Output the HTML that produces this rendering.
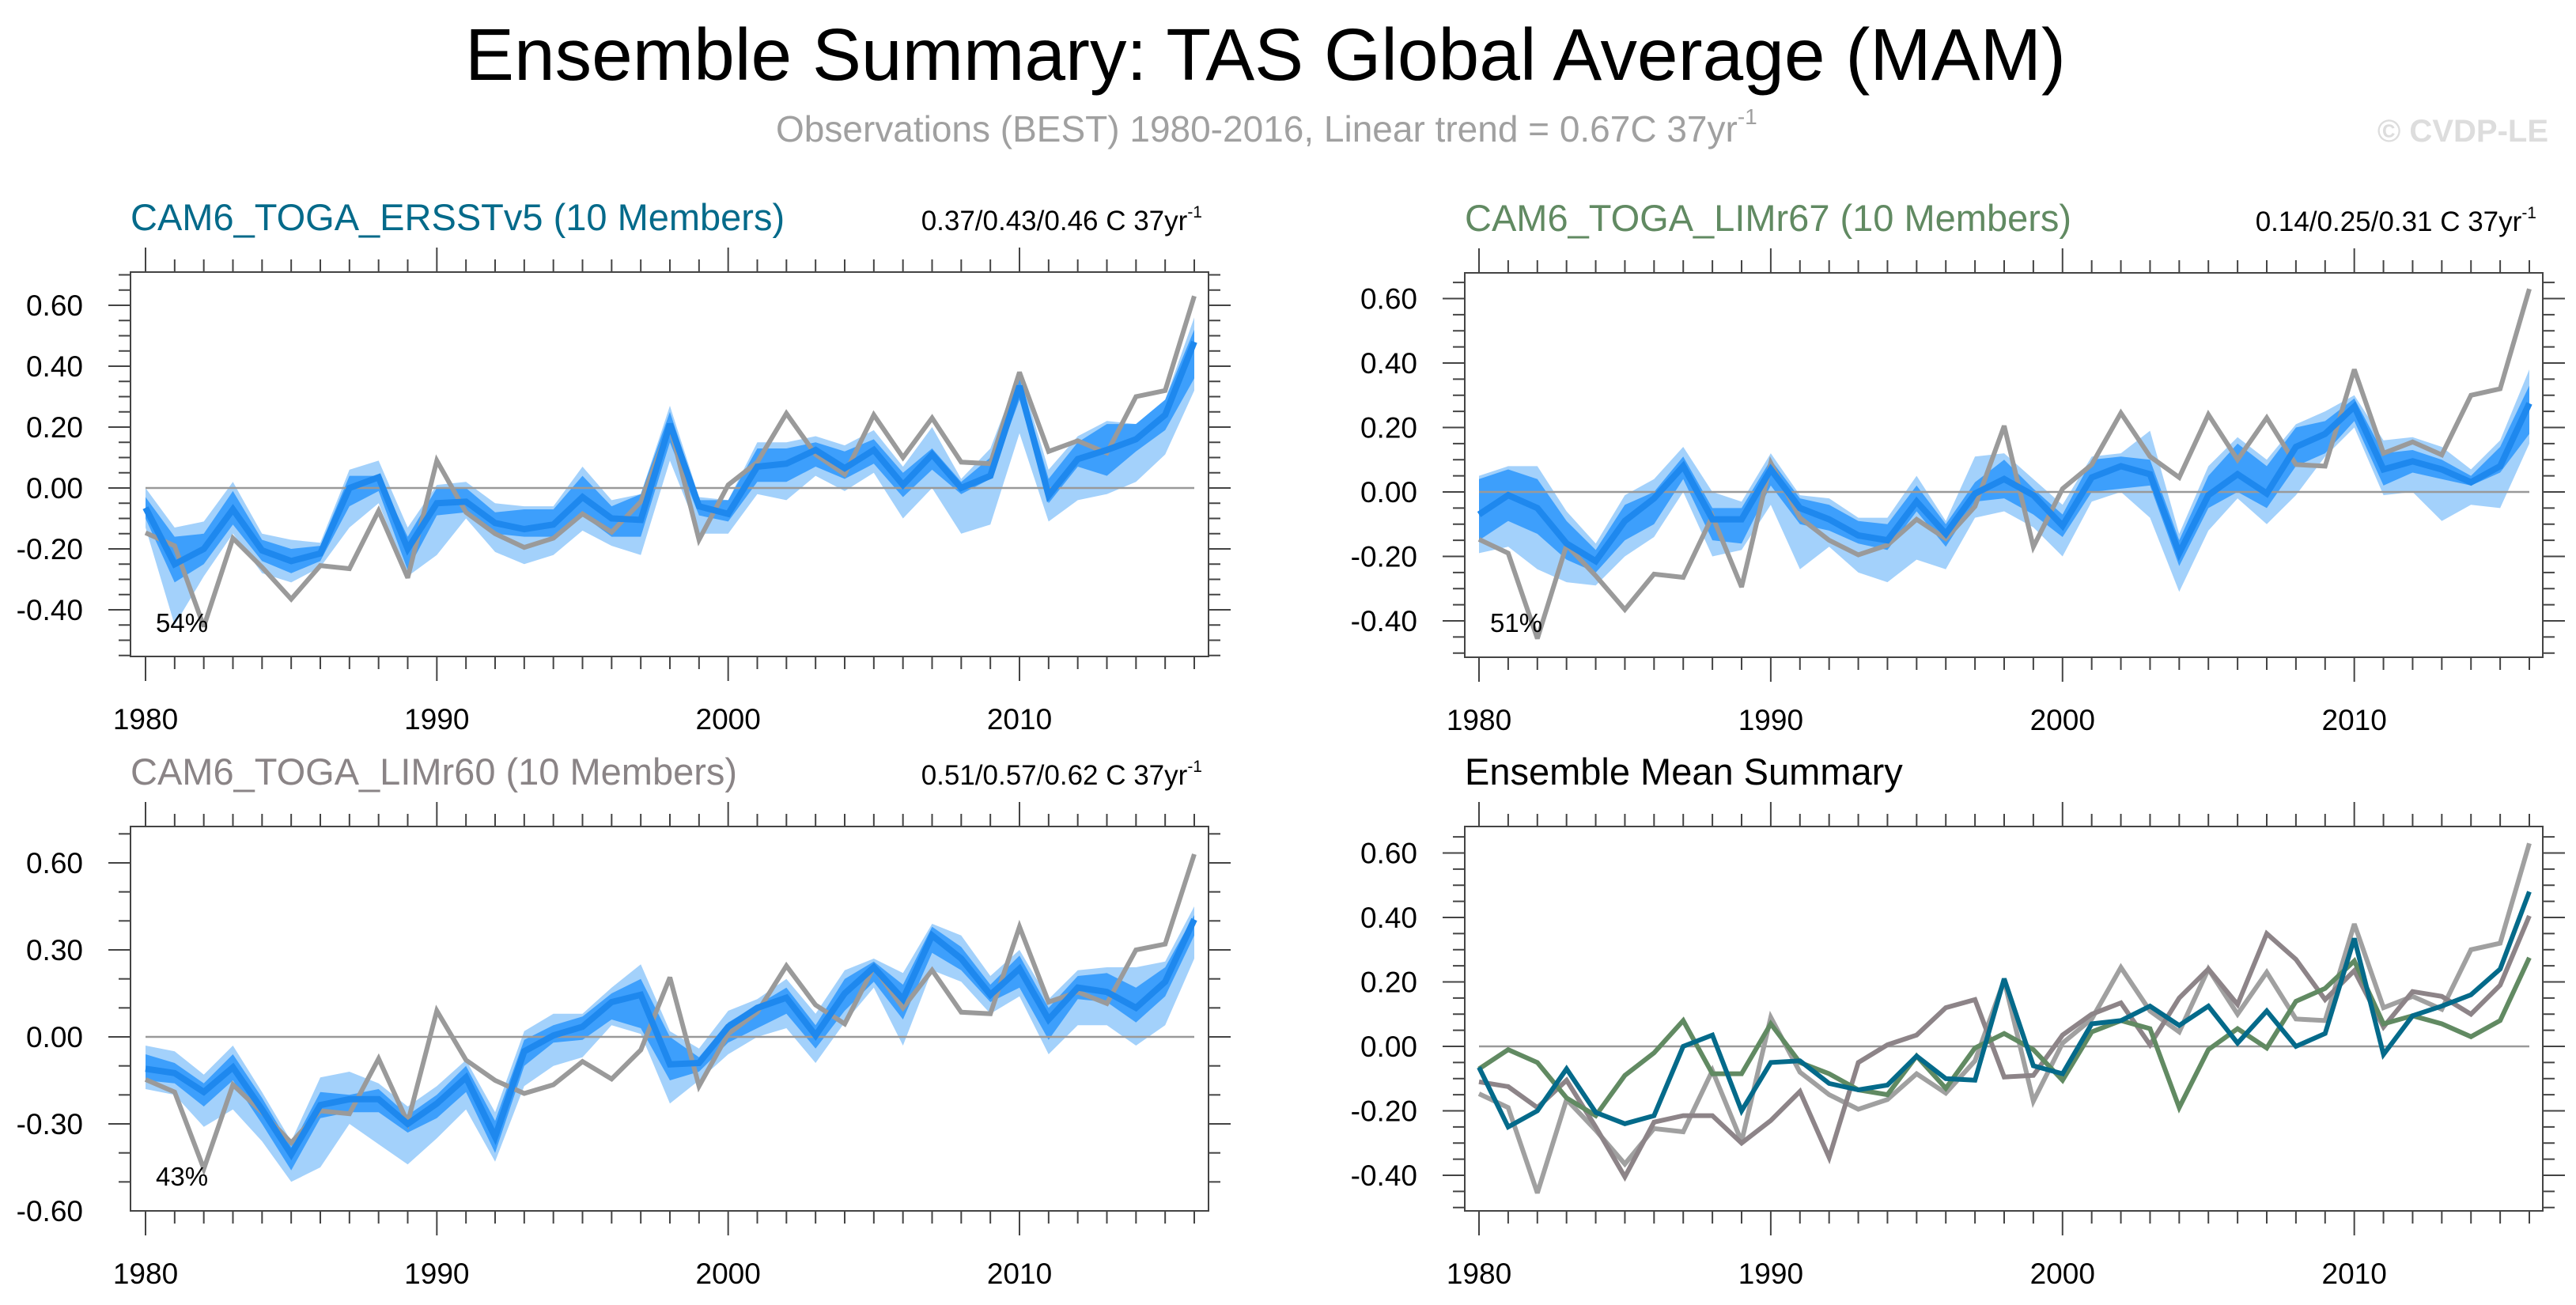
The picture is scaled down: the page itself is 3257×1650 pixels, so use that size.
<!DOCTYPE html>
<html><head><meta charset="utf-8"><style>
html,body{margin:0;padding:0;background:#fff;}
svg{display:block;font-family:"Liberation Sans",sans-serif;}
</style></head><body>
<svg id="chart" xmlns="http://www.w3.org/2000/svg" width="3257" height="1650" viewBox="0 0 3257 1650">
<text x="1600" y="101" font-size="93" text-anchor="middle" textLength="2024" lengthAdjust="spacingAndGlyphs">Ensemble Summary: TAS Global Average (MAM)</text>
<text x="981" y="179" font-size="46" fill="#a0a0a0">Observations (BEST) 1980-2016, Linear trend = 0.67C 37yr<tspan font-size="28" dy="-22">-1</tspan></text>
<text x="3222" y="179" font-size="40" font-weight="bold" fill="#dddddd" text-anchor="end">© CVDP-LE</text>
</svg>
<script>
const years = [];
for (let y = 1980; y <= 2016; y++) years.push(y);
const xTickLabels = ["1980","1990","2000","2010"];
const obs = [-0.147,-0.19,-0.455,-0.165,-0.26,-0.365,-0.255,-0.265,-0.075,-0.295,0.09,-0.08,-0.15,-0.195,-0.165,-0.085,-0.145,-0.045,0.205,-0.17,0.01,0.085,0.245,0.11,0.045,0.24,0.10,0.23,0.085,0.08,0.38,0.12,0.155,0.115,0.30,0.32,0.63];
const ersstMean = [-0.065,-0.25,-0.20,-0.07,-0.205,-0.24,-0.215,0.0,0.035,-0.2,-0.05,-0.045,-0.115,-0.135,-0.12,-0.03,-0.10,-0.105,0.21,-0.06,-0.085,0.07,0.08,0.125,0.065,0.125,0.01,0.11,0.0,0.04,0.335,-0.025,0.095,0.125,0.16,0.24,0.48];
const ersstLightHi = [0.00,-0.13,-0.11,0.02,-0.15,-0.17,-0.18,0.06,0.09,-0.13,0.01,0.02,-0.05,-0.06,-0.06,0.07,-0.04,-0.02,0.27,-0.03,-0.04,0.15,0.15,0.17,0.14,0.19,0.07,0.20,0.03,0.13,0.38,0.06,0.17,0.22,0.21,0.29,0.56];
const ersstDarkHi = [-0.03,-0.16,-0.15,-0.01,-0.17,-0.20,-0.19,0.04,0.04,-0.16,0.0,0.0,-0.08,-0.07,-0.07,0.04,-0.06,-0.02,0.25,-0.04,-0.04,0.13,0.13,0.15,0.12,0.16,0.05,0.13,0.02,0.10,0.36,0.03,0.15,0.21,0.21,0.29,0.52];
const ersstDarkLo = [-0.10,-0.31,-0.25,-0.12,-0.24,-0.28,-0.24,-0.06,-0.01,-0.27,-0.09,-0.08,-0.15,-0.16,-0.16,-0.09,-0.16,-0.16,0.15,-0.09,-0.11,0.02,0.02,0.07,0.03,0.08,-0.03,0.06,-0.02,0.03,0.29,-0.05,0.07,0.04,0.12,0.19,0.36];
const ersstLightLo = [-0.13,-0.45,-0.29,-0.15,-0.28,-0.31,-0.26,-0.13,-0.05,-0.29,-0.22,-0.10,-0.21,-0.25,-0.22,-0.14,-0.19,-0.22,0.09,-0.15,-0.15,-0.02,-0.04,0.04,-0.01,0.05,-0.10,0.0,-0.15,-0.12,0.18,-0.11,-0.04,-0.02,0.02,0.11,0.32];
const lim67Mean = [-0.07,-0.01,-0.05,-0.16,-0.215,-0.09,-0.02,0.08,-0.085,-0.085,0.07,-0.05,-0.085,-0.135,-0.15,-0.03,-0.13,-0.005,0.04,-0.01,-0.105,0.045,0.08,0.055,-0.19,-0.01,0.055,-0.005,0.14,0.18,0.265,0.07,0.095,0.07,0.03,0.08,0.275];
const lim67LightHi = [0.05,0.08,0.08,-0.06,-0.16,-0.01,0.04,0.14,0.0,-0.03,0.12,-0.01,-0.02,-0.08,-0.08,0.05,-0.09,0.11,0.12,0.04,-0.04,0.11,0.12,0.19,-0.13,0.08,0.17,0.10,0.21,0.25,0.30,0.16,0.17,0.14,0.07,0.16,0.38];
const lim67DarkHi = [0.04,0.07,0.04,-0.09,-0.18,-0.04,0.0,0.11,-0.05,-0.05,0.10,-0.02,-0.04,-0.09,-0.10,0.02,-0.10,0.03,0.10,0.01,-0.07,0.10,0.11,0.10,-0.15,0.05,0.15,0.08,0.20,0.22,0.29,0.12,0.13,0.10,0.05,0.14,0.33];
const lim67DarkLo = [-0.15,-0.09,-0.13,-0.21,-0.25,-0.15,-0.10,0.04,-0.15,-0.16,0.02,-0.10,-0.12,-0.16,-0.18,-0.06,-0.17,-0.03,-0.02,-0.07,-0.14,0.00,0.01,0.02,-0.23,-0.05,0.00,-0.05,0.08,0.12,0.22,0.02,0.06,0.04,0.02,0.06,0.18];
const lim67LightLo = [-0.19,-0.17,-0.24,-0.28,-0.29,-0.20,-0.14,0.00,-0.20,-0.18,-0.04,-0.24,-0.17,-0.25,-0.28,-0.21,-0.24,-0.08,-0.06,-0.11,-0.20,-0.03,0.00,-0.08,-0.31,-0.12,-0.02,-0.10,-0.01,0.11,0.20,-0.01,0.00,-0.09,-0.04,-0.05,0.15];
const lim60Mean = [-0.11,-0.125,-0.19,-0.105,-0.25,-0.405,-0.235,-0.215,-0.215,-0.30,-0.23,-0.14,-0.345,-0.05,0.005,0.035,0.12,0.145,-0.095,-0.09,0.035,0.10,0.135,0.005,0.15,0.24,0.13,0.35,0.27,0.145,0.235,0.06,0.17,0.155,0.10,0.19,0.405];
const lim60LightHi = [-0.03,-0.05,-0.13,-0.03,-0.19,-0.36,-0.14,-0.12,-0.16,-0.24,-0.17,-0.08,-0.26,0.02,0.08,0.08,0.17,0.25,0.02,-0.04,0.09,0.13,0.20,0.08,0.23,0.27,0.22,0.39,0.35,0.21,0.30,0.13,0.23,0.24,0.24,0.26,0.45];
const lim60DarkHi = [-0.06,-0.09,-0.16,-0.06,-0.21,-0.38,-0.19,-0.20,-0.18,-0.27,-0.20,-0.10,-0.29,-0.01,0.04,0.07,0.15,0.20,0.00,-0.07,0.05,0.11,0.17,0.04,0.20,0.26,0.18,0.38,0.31,0.18,0.28,0.10,0.21,0.22,0.17,0.24,0.42];
const lim60DarkLo = [-0.15,-0.16,-0.24,-0.15,-0.30,-0.46,-0.28,-0.26,-0.26,-0.33,-0.28,-0.19,-0.40,-0.10,-0.02,-0.01,0.06,0.03,-0.15,-0.12,-0.02,0.03,0.08,-0.04,0.09,0.19,0.06,0.29,0.23,0.12,0.17,-0.01,0.13,0.12,0.05,0.14,0.35];
const lim60LightLo = [-0.18,-0.20,-0.31,-0.25,-0.36,-0.50,-0.45,-0.30,-0.37,-0.44,-0.35,-0.25,-0.43,-0.17,-0.10,-0.07,0.04,0.01,-0.23,-0.15,-0.06,0.00,0.03,-0.09,0.05,0.17,-0.03,0.23,0.19,0.08,0.14,-0.06,0.04,0.04,-0.03,0.04,0.27];
const ticksA = ["-0.40","-0.20","0.00","0.20","0.40","0.60"];
const ticksB = ["-0.60","-0.30","0.00","0.30","0.60"];

const NS = "http://www.w3.org/2000/svg";
const svg = document.getElementById("chart");
function mk(tag, attrs, parent) {
  const e = document.createElementNS(NS, tag);
  for (const k in attrs) e.setAttribute(k, attrs[k]);
  (parent || svg).appendChild(e);
  return e;
}

function panel(cfg) {
  const g = mk("g", {});
  
  
  const xs = i => cfg.x0 + (years[i] - 1980) * (cfg.x1 - cfg.x0) / 36;
  const xy = yr => cfg.x0 + (yr - 1980) * (cfg.x1 - cfg.x0) / 36;
  const ys = v => cfg.zeroY - v * cfg.pxPerUnit;
  function band(hi, lo, color, nm) {
    let d = "";
    hi.forEach((v, i) => { d += (i ? "L" : "M") + xs(i).toFixed(1) + "," + ys(v).toFixed(1); });
    for (let i = lo.length - 1; i >= 0; i--) d += "L" + xs(i).toFixed(1) + "," + ys(lo[i]).toFixed(1);
    const p = mk("path", { d: d + "Z", fill: color, stroke: "none" }, g);
    
    
  }
  function line(vals, color, w, nm) {
    const pts = vals.map((v, i) => xs(i).toFixed(1) + "," + ys(v).toFixed(1)).join(" ");
    const p = mk("polyline", { points: pts, fill: "none", stroke: color, "stroke-width": w, "stroke-linejoin": "miter", "stroke-miterlimit": 3 }, g);
    
    
  }
  if (cfg.bands) {
    band(cfg.bands[0], cfg.bands[3], "#a3d1fb", "min-max-band");
    band(cfg.bands[1], cfg.bands[2], "#3d9ffc", "interquartile-band");
  }
  const zl = mk("line", { x1: xs(0), x2: xs(36), y1: ys(0), y2: ys(0), stroke: "#999", "stroke-width": 2.5 }, g);
  
  
  if (cfg.bands) {
    line(obs, "#9a9a9a", 6, "observations-line");
    line(cfg.mean, "#1e88ee", 8, "ensemble-mean-line");
  } else {
    cfg.lines.forEach(l => line(l[0], l[1], 6, l[2]));
  }
  const fr = mk("rect", { x: cfg.bx0, y: cfg.by0, width: cfg.bx1 - cfg.bx0, height: cfg.by1 - cfg.by0, fill: "none", stroke: "#444", "stroke-width": 2 }, g);
  
  
  years.forEach(yr => {
    const x = xy(yr), major = yr % 10 === 0, L = major ? 31 : 16;
    mk("line", { x1: x, x2: x, y1: cfg.by0, y2: cfg.by0 - L, stroke: "#444", "stroke-width": 2 }, g);
    mk("line", { x1: x, x2: x, y1: cfg.by1, y2: cfg.by1 + L, stroke: "#444", "stroke-width": 2 }, g);
  });
  xTickLabels.forEach(lbl => {
    const t = mk("text", { x: xy(+lbl), y: cfg.by1 + 92, "font-size": 37, "text-anchor": "middle" }, g);
    t.textContent = lbl;
    
    
  });
  const vTop = (cfg.zeroY - cfg.by0) / cfg.pxPerUnit, vBot = (cfg.zeroY - cfg.by1) / cfg.pxPerUnit;
  const start = Math.ceil(vBot / cfg.minor - 1e-6);
  for (let k = start; k * cfg.minor <= vTop + 1e-6; k++) {
    const v = k * cfg.minor, y = ys(v);
    const major = Math.abs(v / cfg.major - Math.round(v / cfg.major)) < 1e-6;
    const L = major ? 28 : 15;
    mk("line", { x1: cfg.bx0, x2: cfg.bx0 - L, y1: y, y2: y, stroke: "#444", "stroke-width": 2 }, g);
    mk("line", { x1: cfg.bx1, x2: cfg.bx1 + L, y1: y, y2: y, stroke: "#444", "stroke-width": 2 }, g);
  }
  cfg.yTicks.forEach(lbl => {
    const t = mk("text", { x: cfg.bx0 - 60, y: ys(+lbl) + 13, "font-size": 37, "text-anchor": "end" }, g);
    t.textContent = lbl;
    
    
  });
  const tt = mk("text", { x: cfg.bx0 + (cfg.titleDx || 0), y: cfg.by0 - 53, "font-size": 47, fill: cfg.titleColor }, g);
  tt.textContent = cfg.title;
  
  
  if (cfg.trend) {
    const tr = mk("text", { x: cfg.bx1 - 8, y: cfg.by0 - 53, "font-size": 35, "text-anchor": "end" }, g);
    tr.innerHTML = cfg.trend + '<tspan font-size="21" dy="-16">-1</tspan>';
    
    
  }
  if (cfg.pct) {
    const pt = mk("text", { x: cfg.bx0 + 32, y: cfg.pctY, "font-size": 33 }, g);
    pt.textContent = cfg.pct;
    
    
  }
}

panel({ name: "panel-ersstv5", x0: 184, x1: 1510, bx0: 165, bx1: 1528, by0: 344, by1: 830, zeroY: 617, pxPerUnit: 385, minor: 0.05, major: 0.2, yTicks: ticksA,
  bands: [ersstLightHi, ersstDarkHi, ersstDarkLo, ersstLightLo], mean: ersstMean,
  title: "CAM6_TOGA_ERSSTv5 (10 Members)", titleColor: "#046a8a", trend: "0.37/0.43/0.46 C 37yr", pct: "54%", pctY: 799 });
panel({ name: "panel-limr67", x0: 1870, x1: 3198, bx0: 1852, bx1: 3215, by0: 345, by1: 831, zeroY: 622, pxPerUnit: 407.5, minor: 0.05, major: 0.2, yTicks: ticksA,
  bands: [lim67LightHi, lim67DarkHi, lim67DarkLo, lim67LightLo], mean: lim67Mean,
  title: "CAM6_TOGA_LIMr67 (10 Members)", titleColor: "#618a62", trend: "0.14/0.25/0.31 C 37yr", pct: "51%", pctY: 799 });
panel({ name: "panel-limr60", x0: 184, x1: 1510, bx0: 165, bx1: 1528, by0: 1045, by1: 1531, zeroY: 1311, pxPerUnit: 366.7, minor: 0.1, major: 0.3, yTicks: ticksB,
  bands: [lim60LightHi, lim60DarkHi, lim60DarkLo, lim60LightLo], mean: lim60Mean,
  title: "CAM6_TOGA_LIMr60 (10 Members)", titleColor: "#8a8486", trend: "0.51/0.57/0.62 C 37yr", pct: "43%", pctY: 1499 });
panel({ name: "panel-ensemble-mean-summary", x0: 1870, x1: 3198, bx0: 1852, bx1: 3215, by0: 1045, by1: 1531, zeroY: 1323, pxPerUnit: 407.5, minor: 0.05, major: 0.2, yTicks: ticksA,
  lines: [[obs, "#a0a0a0", "observations-line"], [lim60Mean, "#8d8488", "limr60-mean-line"], [lim67Mean, "#618a62", "limr67-mean-line"], [ersstMean, "#046a8a", "ersstv5-mean-line"]],
  title: "Ensemble Mean Summary", titleColor: "#000" });
</script>
</body></html>
